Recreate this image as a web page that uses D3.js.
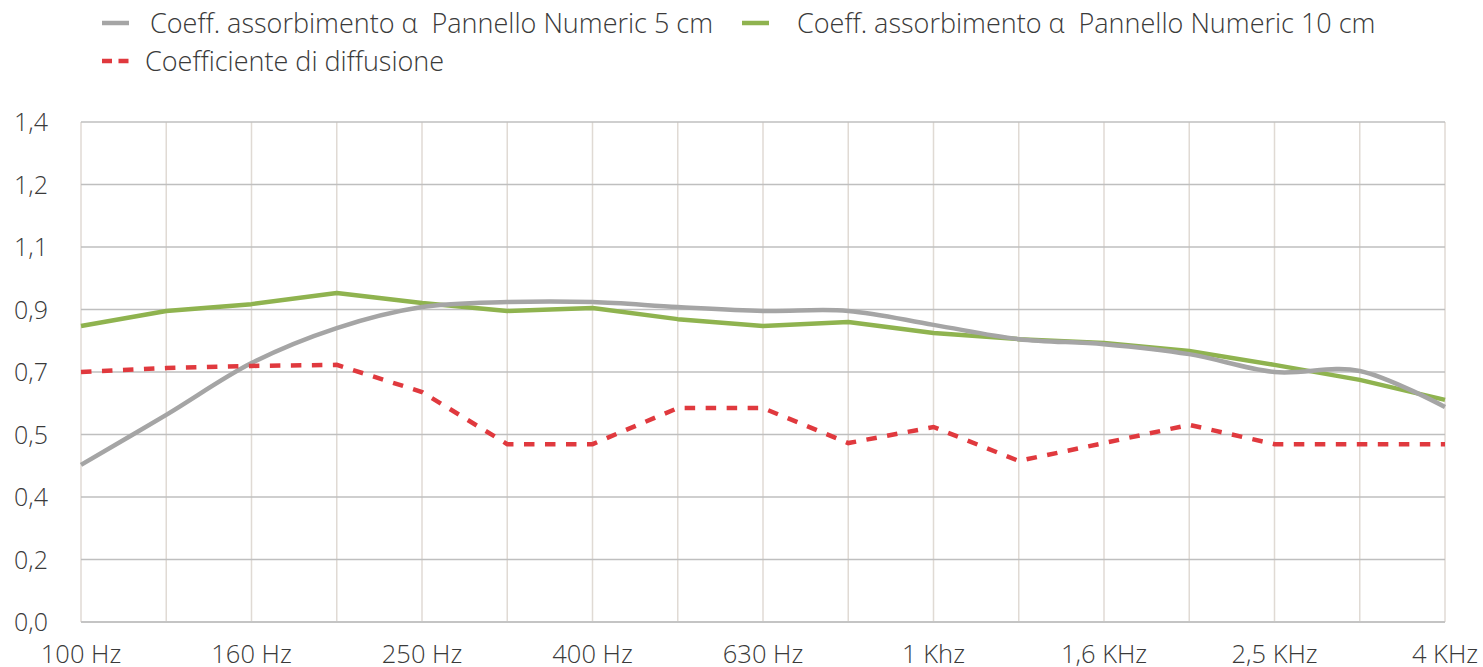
<!DOCTYPE html>
<meta charset="utf-8">
<style>
body { margin: 0; background: #fff; }
text { font-family: "Open Sans", Lato, sans-serif; font-weight: 300; fill: #3a3a3a; }
</style>
<svg width="1483" height="667"></svg>
<script src="https://d3js.org/d3.v7.min.js"></script>
<script>

// frequency bands (one point per third-octave)
var freqs = ["100", "125", "160", "200", "250", "315", "400", "500", "630", "800",
             "1000", "1250", "1600", "2000", "2500", "3150", "4000"];
var xLabels = {"100": "100 Hz", "160": "160 Hz", "250": "250 Hz", "400": "400 Hz", "630": "630 Hz",
               "1000": "1 Khz", "1600": "1,6 KHz", "2500": "2,5 KHz", "4000": "4 KHz"};

var yTickLabels = ["0,0", "0,2", "0,4", "0,5", "0,7", "0,9", "1,1", "1,2", "1,4"];
var yMax = 1.4;

var absorb5 = [0.44, 0.58, 0.725, 0.823, 0.882, 0.896, 0.896, 0.882, 0.871, 0.871,
               0.832, 0.792, 0.778, 0.750, 0.700, 0.703, 0.602];
var absorb10 = [0.829, 0.871, 0.890, 0.921, 0.893, 0.871, 0.879, 0.848, 0.829, 0.840,
                0.809, 0.792, 0.781, 0.759, 0.720, 0.678, 0.622];
var diffusion = [0.700, 0.711, 0.717, 0.720, 0.644, 0.498, 0.498, 0.599, 0.599, 0.501,
                 0.546, 0.451, 0.501, 0.552, 0.498, 0.498, 0.498];

var svg = d3.select("svg");

var x = d3.scalePoint().domain(freqs).range([81, 1445]);
var y = d3.scaleLinear().domain([0, yMax]).range([622, 122]);

var yTicks = d3.range(yTickLabels.length).map(function(i) { return i * yMax / (yTickLabels.length - 1); });

// vertical grid
svg.append("g")
  .selectAll("line")
  .data(freqs)
  .enter().append("line")
    .attr("x1", function(d) { return x(d); })
    .attr("x2", function(d) { return x(d); })
    .attr("y1", y(yMax))
    .attr("y2", y(0))
    .attr("stroke", "#e0dad4")
    .attr("stroke-width", 1.5);

// horizontal grid
svg.append("g")
  .selectAll("line")
  .data(yTicks)
  .enter().append("line")
    .attr("x1", x.range()[0])
    .attr("x2", x.range()[1])
    .attr("y1", function(d) { return y(d); })
    .attr("y2", function(d) { return y(d); })
    .attr("stroke", function(d, i) { return i == 0 ? "#c4c4c4" : "#bfbfbf"; })
    .attr("stroke-width", function(d, i) { return i == 0 ? 2 : 1.5; });

// y labels
svg.append("g")
  .selectAll("text")
  .data(yTicks)
  .enter().append("text")
    .attr("x", 48)
    .attr("y", function(d) { return y(d); })
    .attr("dy", "0.36em")
    .attr("text-anchor", "end")
    .attr("font-size", 25)
    .text(function(d, i) { return yTickLabels[i]; });

// x labels
svg.append("g")
  .selectAll("text")
  .data(freqs.filter(function(f) { return xLabels[f]; }))
  .enter().append("text")
    .attr("x", function(d) { return x(d); })
    .attr("y", 663)
    .attr("text-anchor", "middle")
    .attr("font-size", 25.5)
    .text(function(d) { return xLabels[d]; });

var straight = d3.line()
    .x(function(d, i) { return x(freqs[i]); })
    .y(function(d) { return y(d); });

var smooth = d3.line()
    .curve(d3.curveCatmullRom.alpha(0))
    .x(function(d, i) { return x(freqs[i]); })
    .y(function(d) { return y(d); });

svg.append("path")
    .attr("d", straight(absorb10))
    .attr("fill", "none")
    .attr("stroke", "#8fb34f")
    .attr("stroke-width", 4.5)
    .attr("stroke-linejoin", "round");

svg.append("path")
    .attr("d", smooth(absorb5))
    .attr("fill", "none")
    .attr("stroke", "#a5a5a5")
    .attr("stroke-width", 4.5);

svg.append("path")
    .attr("d", straight(diffusion))
    .attr("fill", "none")
    .attr("stroke", "#e0393e")
    .attr("stroke-width", 4.5)
    .attr("stroke-dasharray", "10.5,10.5");

// legend
var legend = [
  {label: "Coeff. assorbimento α  Pannello Numeric 5 cm", color: "#a5a5a5", dash: null, lx: 102, tx: 150, ly: 23},
  {label: "Coeff. assorbimento α  Pannello Numeric 10 cm", color: "#8fb34f", dash: null, lx: 742, tx: 797, ly: 23},
  {label: "Coefficiente di diffusione", color: "#e0393e", dash: "10,6.5", lx: 102, tx: 145, ly: 61}
];

var lg = svg.append("g")
  .selectAll("g")
  .data(legend)
  .enter().append("g");

lg.append("line")
    .attr("x1", function(d) { return d.lx; })
    .attr("x2", function(d) { return d.lx + 27; })
    .attr("y1", function(d) { return d.ly; })
    .attr("y2", function(d) { return d.ly; })
    .attr("stroke", function(d) { return d.color; })
    .attr("stroke-width", 4.5)
    .attr("stroke-dasharray", function(d) { return d.dash; });

lg.append("text")
    .attr("x", function(d) { return d.tx; })
    .attr("y", function(d) { return d.ly; })
    .attr("dy", "0.36em")
    .attr("font-size", 27)
    .style("white-space", "pre")
    .text(function(d) { return d.label; });

</script>
